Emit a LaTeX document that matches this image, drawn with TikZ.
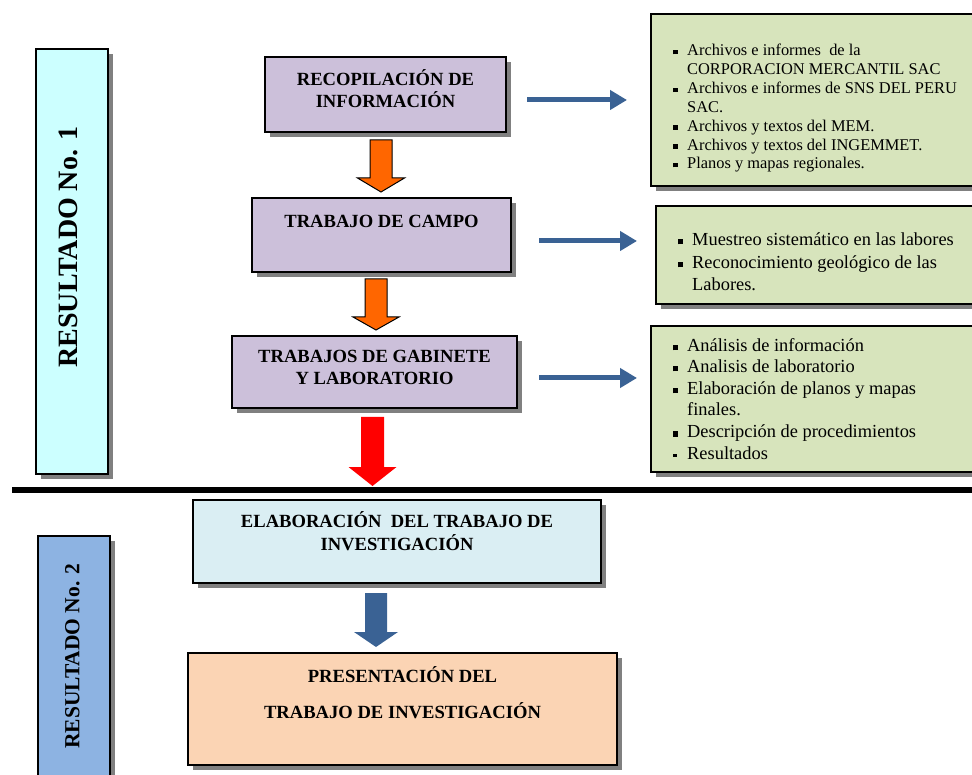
\documentclass[tikz,border=0pt]{standalone}
\usepackage{fontspec}
\setmainfont{Liberation Serif}
\usetikzlibrary{shadows,arrows.meta,calc}
\definecolor{lilac}{HTML}{CCC0DA}
\definecolor{cyanbox}{HTML}{CCFFFF}
\definecolor{bluebox}{HTML}{8DB3E2}
\definecolor{iceblue}{HTML}{DAEEF3}
\definecolor{peach}{HTML}{FBD4B4}
\definecolor{sage}{HTML}{D7E4BC}
\definecolor{orangearr}{HTML}{FF6600}
\definecolor{steel}{HTML}{3A6294}
\newcommand\ttlfont{\bfseries\fontsize{18.6}{22}\selectfont}
\newcommand\smfont{\fontsize{16.4}{19}\selectfont}
\newcommand\mdfont{\fontsize{18.4}{21}\selectfont}
\newcommand\sqa{\makebox[14pt][l]{\raisebox{1.5pt}{\rule{4.5pt}{4.5pt}}}}
\newcommand\sqb{\makebox[14pt][l]{\raisebox{1.5pt}{\rule{5pt}{5pt}}}}
\newcommand\sqc{\makebox[14pt][l]{\raisebox{2pt}{\rule{3.5pt}{3.5pt}}}}
\newcommand\ind{\hspace*{14pt}}
\newcommand\blockdown[6]{%
  \path[#1] (#2) ++(-#5,0) -- ++(2*#5,0) -- ++(0,#3) -- ++(#6-#5,0)
    -- ++(-#6,#4) -- ++(-#6,-#4) -- ++(#6-#5,0) -- cycle;}
\tikzset{
  box/.style={draw=black,line width=1.5pt,inner sep=0pt,
    drop shadow={shadow xshift=5pt,shadow yshift=-5pt,fill=black!50,opacity=1}},
  ttl/.style={anchor=base,inner sep=0pt,font=\ttlfont},
  itemA/.style={anchor=base west,inner sep=0pt,font=\smfont},
  itemB/.style={anchor=base west,inner sep=0pt,font=\mdfont},
  rarrow/.style={draw=steel,line width=5pt,-{Triangle[width=19pt,length=17pt]}},
  orangeblock/.style={fill=orangearr,draw=black,line width=1pt},
  redblock/.style={fill=red},
  blueblock/.style={fill=steel},
}
\begin{document}
\begin{tikzpicture}[x=1pt,y=-1pt]
\useasboundingbox (0,0) rectangle (972,775);
\clip (0,0) rectangle (972,775);

% left labels
\node[box,fill=cyanbox,minimum width=72pt,minimum height=425pt] (r1) at (72,261.5) {};
\node[rotate=90,inner sep=0pt,font=\bfseries\fontsize{28}{30}\selectfont] (r1t) at (68.5,247) {RESULTADO No. 1};
\node[box,fill=bluebox,minimum width=72pt,minimum height=270pt] (r2) at (74,671) {};
\node[rotate=90,inner sep=0pt,font=\bfseries\fontsize{21.5}{24}\selectfont] (r2t) at (72.5,656) {RESULTADO No. 2};

% main boxes
\node[box,fill=lilac,minimum width=241pt,minimum height=75pt] (rec) at (385.5,94.5) {};
\node[ttl] (rec1) at (385.5,86) {RECOPILACIÓN DE};
\node[ttl] (rec2) at (385.5,108) {INFORMACIÓN};

\node[box,fill=lilac,minimum width=259pt,minimum height=74pt] (campo) at (381.5,235) {};
\node[ttl] (campo1) at (381.5,228) {TRABAJO DE CAMPO};

\node[box,fill=lilac,minimum width=285pt,minimum height=72pt] (gab) at (374.5,372) {};
\node[ttl] (gab1) at (374.5,363) {TRABAJOS DE GABINETE};
\node[ttl] (gab2) at (374.5,385) {Y LABORATORIO};

\node[box,fill=iceblue,minimum width=408pt,minimum height=83pt] (elab) at (397,541.5) {};
\node[ttl] (elab1) at (397,527) {ELABORACIÓN\ \ DEL TRABAJO DE};
\node[ttl] (elab2) at (397,550) {INVESTIGACIÓN};

\node[box,fill=peach,minimum width=429pt,minimum height=112pt] (pres) at (402.5,709) {};
\node[ttl] (pres1) at (402.5,682) {PRESENTACIÓN DEL};
\node[ttl] (pres2) at (402.5,718) {TRABAJO DE INVESTIGACIÓN};

% right boxes
\node[box,fill=sage,minimum width=339pt,minimum height=172pt] (ba) at (820.5,100) {};
\node[itemA] (a1) at (673,56) {\sqa Archivos e informes\ \ de la};
\node[itemA] (a2) at (673,74.8) {\ind CORPORACION MERCANTIL SAC};
\node[itemA] (a3) at (673,93.7) {\sqa Archivos e informes de SNS DEL PERU};
\node[itemA] (a4) at (673,112.5) {\ind SAC.};
\node[itemA] (a5) at (673,131.3) {\sqa Archivos y textos del MEM.};
\node[itemA] (a6) at (673,150.2) {\sqa Archivos y textos del INGEMMET.};
\node[itemA] (a7) at (673,169) {\sqa Planos y mapas regionales.};

\node[box,fill=sage,minimum width=334pt,minimum height=98pt] (bb) at (823,255) {};
\node[itemB] (b1) at (678,246) {\sqb Muestreo sistemático en las labores};
\node[itemB] (b2) at (678,269) {\sqb Reconocimiento geológico de las};
\node[itemB] (b3) at (678,291) {\ind Labores.};

\node[box,fill=sage,minimum width=339pt,minimum height=146pt] (bc) at (820.5,399) {};
\node[itemB] (c1) at (673,352) {\sqb Análisis de información};
\node[itemB] (c2) at (673,373) {\sqb Analisis de laboratorio};
\node[itemB] (c3) at (673,395) {\sqb Elaboración de planos y mapas};
\node[itemB] (c4) at (673,416) {\ind finales.};
\node[itemB] (c5) at (673,438) {\sqb Descripción de procedimientos};
\node[itemB] (c6) at (673,459) {\sqc Resultados};

% divider
\coordinate (d1) at (12,490);
\coordinate (d2) at (980,490);
\draw[line width=6pt] (d1) -- (d2);

% right arrows
\coordinate (ra1) at (527,100); \coordinate (rb1) at (627,100);
\coordinate (ra2) at (539,241); \coordinate (rb2) at (637,241);
\coordinate (ra3) at (539,378); \coordinate (rb3) at (637,378);
\draw[rarrow] (ra1) -- (rb1);
\draw[rarrow] (ra2) -- (rb2);
\draw[rarrow] (ra3) -- (rb3);

% block arrows
\coordinate (o1) at (381,140);
\coordinate (o2) at (376,279);
\coordinate (o3) at (372.5,417);
\coordinate (o4) at (376,593);
\blockdown{orangeblock}{o1}{38}{14}{11}{23.5}
\blockdown{orangeblock}{o2}{38}{13}{11}{23}
\blockdown{redblock}{o3}{50}{19}{11.5}{24}
\blockdown{blueblock}{o4}{39}{15}{11}{22}
\end{tikzpicture}
\end{document}
